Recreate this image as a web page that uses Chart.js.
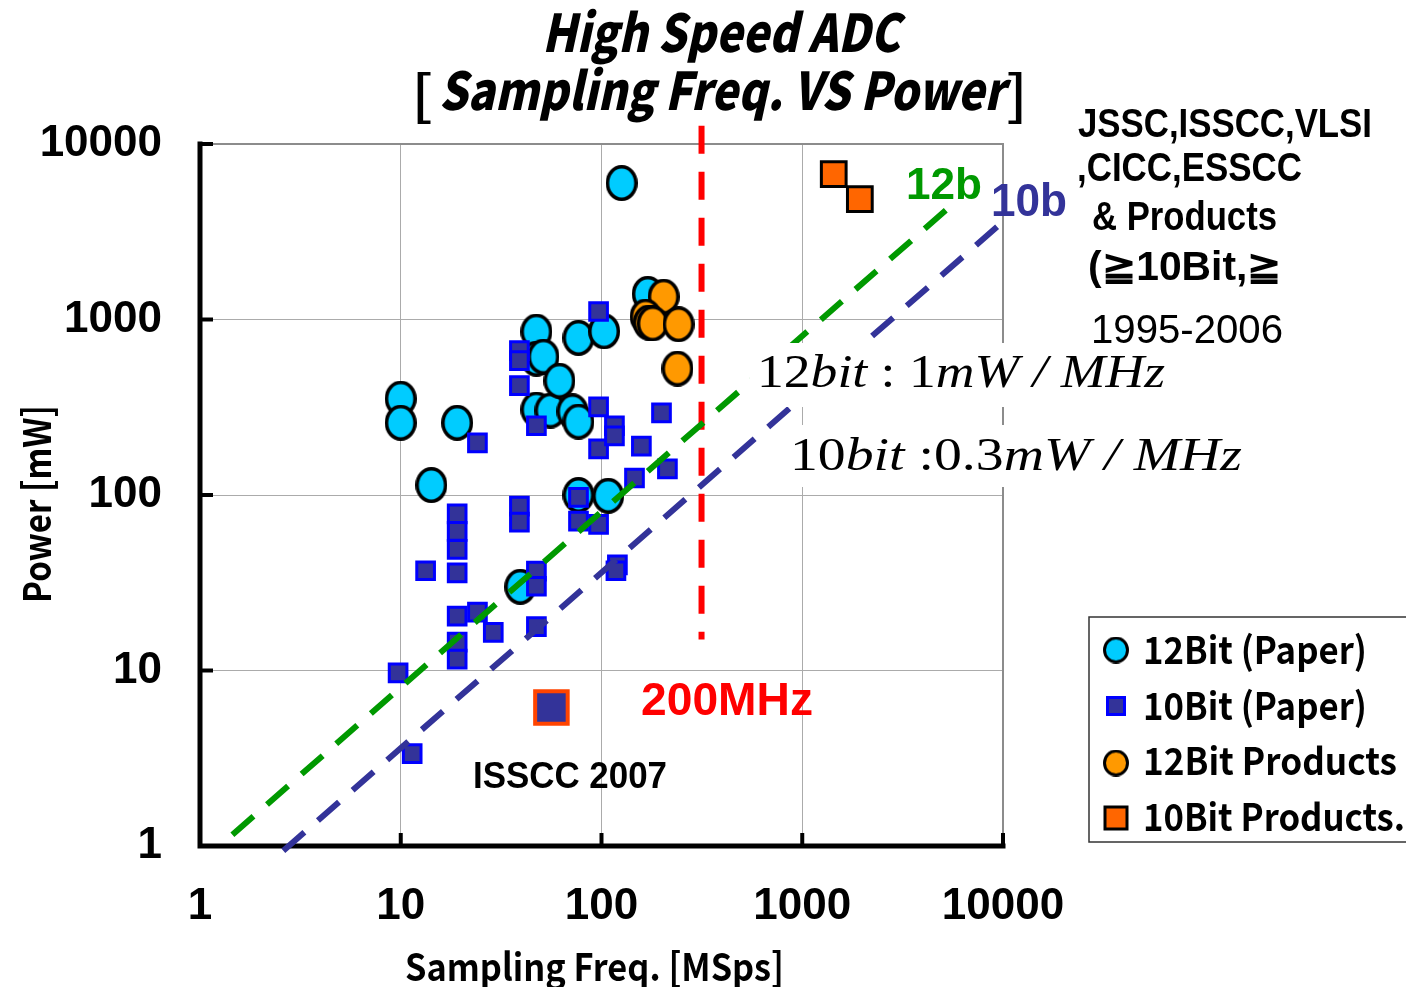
<!DOCTYPE html>
<html>
<head>
<meta charset="utf-8">
<title>High Speed ADC - Sampling Freq. vs Power</title>
<script src="https://cdn.jsdelivr.net/npm/chart.js@4.4.1/dist/chart.umd.min.js"></script>
<style>
  html, body { margin: 0; padding: 0; background: #fff; }
  canvas { display: block; }
</style>
</head>
<body>
<canvas id="adc" width="1406" height="987"></canvas>
<script>
// decade ticks shared by both log axes
const decades = [1, 10, 100, 1000, 10000];

// [MSps, mW]
const paper12 = [
  [10, 354], [10, 258], [14.2, 114], [19.1, 258], [39.4, 30],
  [47.4, 853], [47.4, 598], [51.4, 614], [47.4, 307], [55.7, 303],
  [61.7, 448], [71.7, 300], [76.8, 262], [76.8, 786], [103, 857],
  [76.8, 100], [108, 99], [126, 5990], [170, 1400]
];
const paper10 = [
  [9.7, 9.7], [11.4, 3.36], [13.3, 37], [19.1, 78], [19.1, 62], [19.1, 49],
  [19.1, 36], [19.1, 20.4], [19.1, 14.5], [19.1, 11.6], [24.1, 198], [24.1, 21.5],
  [28.9, 16.5], [39, 665], [39, 583], [39, 420], [39, 86.5], [39, 70],
  [47.4, 248], [47.4, 36.8], [47.4, 30.2], [47.4, 17.8], [76.8, 97], [76.8, 71],
  [96.7, 1111], [96.7, 318], [96.7, 183], [96.7, 68], [116, 248], [116, 217],
  [120, 40], [118, 37], [146, 125], [158, 190], [199, 294], [213, 141]
];
const products12 = [[204, 1350], [166, 1040], [172, 960], [180, 950], [242, 940], [239, 525]];
const products10 = [[1435, 6740], [1936, 4850]];
const isscc2007 = [[56.3, 6.15]];

// figure-of-merit guides and the 200MHz marker
const guide12 = [[1.45, 1.16], [5450, 4400]];
const guide10 = [[2.6, 0.94], [9700, 3500]];
const marker200 = [[315, 12700], [315, 15]];

const xy = pts => pts.map(([x, y]) => ({ x, y }));

// slightly tall ellipse markers, as in the original plot
function ellipseMark(fill, w, h, lw) {
  const c = document.createElement('canvas');
  c.width = w; c.height = h;
  const g = c.getContext('2d');
  g.beginPath();
  g.ellipse(w / 2, h / 2, w / 2 - lw / 2, h / 2 - lw / 2, 0, 0, Math.PI * 2);
  g.fillStyle = fill; g.fill();
  g.lineWidth = lw; g.strokeStyle = '#000'; g.stroke();
  return c;
}
const cyanDot = ellipseMark('#00ccff', 32, 36, 3.5);
const orangeDot = ellipseMark('#ff9900', 32, 36, 3.5);
const cyanKey = ellipseMark('#00ccff', 26, 27, 3);
const orangeKey = ellipseMark('#ff9900', 26, 27, 3);

function guideSet(label, pts, color) {
  return {
    type: 'line', label, data: xy(pts),
    borderColor: color, borderWidth: 6, borderDash: [28, 18],
    pointRadius: 0, fill: false, tension: 0, clip: false
  };
}

// squeeze/stretch a string so it spans the given width
function fitText(ctx, str, left, base, font, color, width) {
  ctx.save();
  ctx.font = font;
  ctx.fillStyle = color;
  ctx.textAlign = 'left';
  ctx.textBaseline = 'alphabetic';
  const k = width / ctx.measureText(str).width;
  ctx.translate(left, base);
  ctx.scale(k, 1);
  ctx.fillText(str, 0, 0);
  ctx.restore();
}

// mixed upright / italic serif, set like a typeset formula
function fitMath(ctx, pieces, left, base, size, width) {
  ctx.save();
  ctx.fillStyle = '#000';
  ctx.textAlign = 'left';
  ctx.textBaseline = 'alphabetic';
  const fonts = pieces.map(p => (p[1] === 'i' ? 'italic ' : '') + size + 'px "Liberation Serif"');
  let total = 0;
  pieces.forEach((p, i) => { ctx.font = fonts[i]; total += ctx.measureText(p[0]).width; });
  ctx.translate(left, base);
  ctx.scale(width / total, 1);
  let cx = 0;
  pieces.forEach((p, i) => {
    ctx.font = fonts[i];
    ctx.fillText(p[0], cx, 0);
    cx += ctx.measureText(p[0]).width;
  });
  ctx.restore();
}

const jp = '"Noto Sans CJK JP", "Liberation Sans", sans-serif';
const arial = '"Liberation Sans", Arial, sans-serif';
const narrow = '"Liberation Sans Narrow", "Liberation Sans", sans-serif';

const decorations = {
  id: 'decorations',
  beforeDatasetsDraw(chart) {
    const { ctx, chartArea: a, scales: { x, y } } = chart;
    ctx.save();
    // grey frame on top and right
    ctx.strokeStyle = '#8c8c8c';
    ctx.lineWidth = 2;
    ctx.beginPath();
    ctx.moveTo(a.left, a.top); ctx.lineTo(a.right, a.top); ctx.lineTo(a.right, a.bottom);
    ctx.stroke();
    // heavy black axes
    ctx.strokeStyle = '#000';
    ctx.lineWidth = 5;
    ctx.lineCap = 'square';
    ctx.beginPath();
    ctx.moveTo(a.left, a.top); ctx.lineTo(a.left, a.bottom); ctx.lineTo(a.right, a.bottom);
    ctx.stroke();
    // inward tick marks
    ctx.lineWidth = 4;
    ctx.lineCap = 'butt';
    decades.forEach(v => {
      const px = x.getPixelForValue(v), py = y.getPixelForValue(v);
      ctx.beginPath(); ctx.moveTo(px, a.bottom); ctx.lineTo(px, a.bottom - 13); ctx.stroke();
      ctx.beginPath(); ctx.moveTo(a.left, py); ctx.lineTo(a.left + 13, py); ctx.stroke();
    });
    ctx.restore();
  },
  afterDatasetsDraw(chart) {
    const ctx = chart.ctx;
    // formula labels sit on white patches
    ctx.save();
    ctx.fillStyle = '#fff';
    ctx.fillRect(750, 343, 422, 64);
    ctx.fillRect(785, 425, 465, 62);
    ctx.restore();
    fitMath(ctx, [['12', 'n'], ['bit', 'i'], [' : ', 'n'], ['1', 'n'], ['mW', 'i'], [' / ', 'i'], ['MHz', 'i']],
      757, 387, 47, 408);
    fitMath(ctx, [['10', 'n'], ['bit', 'i'], [' :', 'n'], ['0.3', 'n'], ['mW', 'i'], [' / ', 'i'], ['MHz', 'i']],
      790, 470, 47, 452);
  },
  afterDraw(chart) {
    const ctx = chart.ctx;

    // title
    fitText(ctx, 'High Speed ADC', 542, 52, 'italic 900 52px ' + jp, '#000', 358);
    fitText(ctx, '[', 413, 112, '56px ' + arial, '#000', 18);
    fitText(ctx, 'Sampling Freq. VS Power', 439, 110, 'italic 900 52px ' + jp, '#000', 566);
    fitText(ctx, ']', 1008, 112, '56px ' + arial, '#000', 18);

    // axis titles
    fitText(ctx, 'Sampling Freq. [MSps]', 405, 981, 'bold 38px ' + jp, '#000', 379);
    ctx.save();
    ctx.translate(51, 603);
    ctx.rotate(-Math.PI / 2);
    fitText(ctx, 'Power [mW]', 0, 0, 'bold 38px ' + jp, '#000', 198);
    ctx.restore();

    // guide and marker labels
    fitText(ctx, '12b', 906, 199, 'bold 45px ' + arial, '#009900', 76);
    fitText(ctx, '10b', 991, 216, 'bold 46px ' + arial, '#333399', 76);
    fitText(ctx, '200MHz', 641, 715, 'bold 46px ' + arial, '#ff0000', 172);
    fitText(ctx, 'ISSCC 2007', 473, 788, 'bold 36px ' + arial, '#000', 194);

    // source note
    fitText(ctx, 'JSSC,ISSCC,VLSI', 1078, 137, 'bold 40px ' + narrow, '#000', 294);
    fitText(ctx, ',CICC,ESSCC', 1077, 181, 'bold 40px ' + narrow, '#000', 225);
    fitText(ctx, '& Products', 1092, 230, 'bold 40px ' + narrow, '#000', 185);
    fitText(ctx, '(\u226710Bit,\u2267', 1088, 280, 'bold 40px ' + narrow, '#000', 194);
    fitText(ctx, '1995-2006', 1091, 343, '40px ' + arial, '#000', 192);

    // legend
    ctx.save();
    ctx.fillStyle = '#fff';
    ctx.fillRect(1089, 617, 330, 225);
    ctx.strokeStyle = '#333';
    ctx.lineWidth = 1.5;
    ctx.strokeRect(1089, 617, 330, 225);
    ctx.drawImage(cyanKey, 1116 - 13, 650 - 13.5);
    ctx.drawImage(orangeKey, 1116 - 13, 763 - 13.5);
    ctx.fillStyle = '#333399';
    ctx.fillRect(1107.5, 697.5, 17, 17);
    ctx.strokeStyle = '#0000ff';
    ctx.lineWidth = 3;
    ctx.strokeRect(1107.5, 697.5, 17, 17);
    ctx.fillStyle = '#ff6600';
    ctx.fillRect(1105, 807, 22, 22);
    ctx.strokeStyle = '#000';
    ctx.lineWidth = 3;
    ctx.strokeRect(1105, 807, 22, 22);
    ctx.restore();
    fitText(ctx, '12Bit (Paper)', 1143, 664, 'bold 38px ' + jp, '#000', 224);
    fitText(ctx, '10Bit (Paper)', 1143, 720, 'bold 38px ' + jp, '#000', 224);
    fitText(ctx, '12Bit Products', 1143, 775, 'bold 38px ' + jp, '#000', 254);
    fitText(ctx, '10Bit Products.', 1143, 831, 'bold 38px ' + jp, '#000', 262);
  }
};

function logAxis(fit, padding) {
  return {
    type: 'logarithmic',
    min: 1,
    max: 10000,
    afterBuildTicks: s => { s.ticks = decades.map(v => ({ value: v })); },
    afterFit: fit,
    grid: { color: '#ababab', lineWidth: 1, drawTicks: false },
    border: { display: false },
    ticks: {
      autoSkip: false,
      maxRotation: 0,
      padding,
      color: '#000',
      font: { family: arial, weight: 'bold', size: 44, lineHeight: 1.2 },
      callback: v => String(v)
    }
  };
}

new Chart(document.getElementById('adc'), {
  type: 'scatter',
  data: {
    datasets: [
      guideSet('12b', guide12, '#009900'),
      guideSet('10b', guide10, '#333399'),
      guideSet('200MHz', marker200, '#ff0000'),
      {
        label: 'ISSCC 2007', data: xy(isscc2007), pointStyle: 'rect',
        pointRadius: 23, backgroundColor: '#333399', borderColor: '#ff4400', borderWidth: 4
      },
      {
        label: '10Bit Products.', data: xy(products10), pointStyle: 'rect',
        pointRadius: 17.5, backgroundColor: '#ff6600', borderColor: '#000', borderWidth: 3
      },
      {
        label: '10Bit (Paper)', data: xy(paper10), pointStyle: 'rect',
        pointRadius: 12.5, backgroundColor: '#333399', borderColor: '#0000ff', borderWidth: 3
      },
      { label: '12Bit Products', data: xy(products12), pointStyle: orangeDot, pointRadius: 16 },
      { label: '12Bit (Paper)', data: xy(paper12), pointStyle: cyanDot, pointRadius: 16 }
    ]
  },
  options: {
    responsive: false,
    devicePixelRatio: 1,
    animation: false,
    events: [],
    layout: { padding: { left: 0, top: 144, right: 403, bottom: 0 } },
    plugins: { legend: { display: false }, tooltip: { enabled: false }, title: { display: false } },
    scales: {
      x: logAxis(s => { s.height = 987 - 846; }, 34),
      y: logAxis(s => { s.width = 200; }, 38)
    }
  },
  plugins: [decorations]
});
</script>
</body>
</html>
